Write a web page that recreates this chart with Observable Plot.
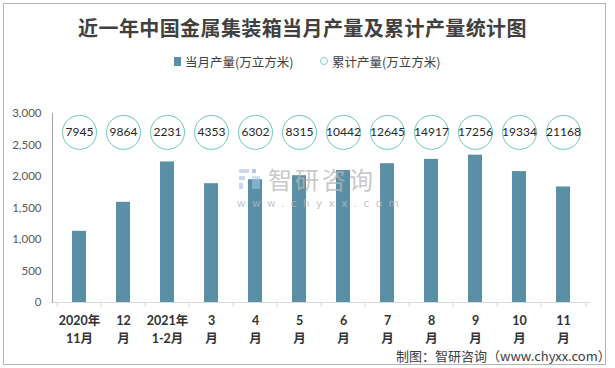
<!DOCTYPE html>
<html><head><meta charset="utf-8">
<script src="https://cdn.jsdelivr.net/npm/d3@7"></script>
<script src="https://cdn.jsdelivr.net/npm/@observablehq/plot@0.6"></script>
<style>
body{margin:0;background:#fff;}
#wrap{position:relative;width:615px;height:368px;overflow:hidden;background:#fff;font-family:"Noto Sans CJK SC",sans-serif;}
#chart{position:absolute;left:0;top:0;}
#border{position:absolute;left:3px;top:3px;width:603px;height:362px;border:1px solid #b4b4b4;box-sizing:border-box;pointer-events:none;}
#title{position:absolute;left:0;top:13px;width:605px;text-align:center;font-size:20px;font-weight:bold;color:#404040;letter-spacing:0.4px;}
#legend{position:absolute;left:0;top:52px;width:615px;font-size:12.5px;color:#404040;}
.li{position:absolute;top:0;white-space:nowrap;}
.sq{position:absolute;width:7px;height:9px;background:#5b8fa6;top:5px;}
.ci{position:absolute;width:6px;height:6px;border:1.3px solid #7fd0c8;border-radius:50%;top:5px;}
#wm1{position:absolute;left:268px;top:167px;font-size:24px;line-height:24px;color:#b8b8b8;opacity:0.75;letter-spacing:3px;}
#wm2{position:absolute;left:237px;top:198px;font-size:10.5px;line-height:11px;color:#b8b8b8;opacity:0.8;letter-spacing:6.4px;font-family:"DejaVu Sans",sans-serif;}
#logo{position:absolute;left:238px;top:167px;width:24px;height:24px;opacity:0.55;}
#footer{position:absolute;left:396px;top:346px;font-size:13px;color:#404040;white-space:nowrap;}
</style></head><body>
<div id="wrap">
 <div id="chart"></div>
 <div id="title">近一年中国金属集装箱当月产量及累计产量统计图</div>
 <div id="legend">
  <div class="sq" style="left:174px"></div><div class="li" style="left:185px">当月产量(万立方米)</div>
  <div class="ci" style="left:320px"></div><div class="li" style="left:332px">累计产量(万立方米)</div>
 </div>
 <svg id="logo" viewBox="0 0 24 24"><rect x="1" y="2" width="10" height="4" fill="#a9b8d8"/><rect x="1" y="9" width="6" height="4" fill="#a9b8d8"/><rect x="1" y="16" width="4" height="6" fill="#a9b8d8"/><rect x="14" y="2" width="4" height="4" fill="#6fa8d8"/><rect x="14" y="9" width="8" height="13" fill="#a9c8e8"/></svg>
 <div id="wm1">智研咨询</div>
 <div id="wm2">www.chyxx.com</div>
 <div id="footer">制图：智研咨询（www.chyxx.com）</div>
 <div id="border"></div>
</div>
<script>
const categories = ["2020年\n11月","12\n月","2021年\n1-2月","3\n月","4\n月","5\n月","6\n月","7\n月","8\n月","9\n月","10\n月","11\n月"];
const monthly = [1130, 1590, 2231, 1886, 1949, 2013, 2095, 2203, 2272, 2339, 2078, 1834];
const cumulative = [7945, 9864, 2231, 4353, 6302, 8315, 10442, 12645, 14917, 17256, 19334, 21168];
const yTicks = [0, 500, 1000, 1500, 2000, 2500, 3000];
const labelLevel = 2700;

const data = categories.map((c, i) => ({cat: c, monthly: monthly[i], cum: cumulative[i]}));
const step = (615 - 52 - 25) / categories.length;

const chart = Plot.plot({
  width: 615, height: 368,
  marginTop: 113, marginBottom: 66, marginLeft: 52, marginRight: 25,
  style: {fontFamily: "Lato, 'Noto Sans CJK SC', sans-serif", background: "transparent"},
  x: {domain: categories, paddingInner: 0.69, paddingOuter: 0.345, axis: null},
  y: {domain: [0, 3000], axis: null},
  marks: [
    Plot.ruleY([0], {stroke: "#d9d9d9", strokeWidth: 1}),
    Plot.ruleX(categories, {x: d => d, dx: -step / 2, insetTop: 189, insetBottom: -5, stroke: "#d9d9d9"}),
    Plot.ruleX(categories.slice(-1), {x: d => d, dx: step / 2, insetTop: 189, insetBottom: -5, stroke: "#d9d9d9"}),
    Plot.frame({anchor: "left", stroke: "#a6a6a6"}),
    Plot.axisY({ticks: yTicks, tickSize: 0, tickPadding: 11, tickFormat: d3.format(","), fontSize: 11.5, color: "#595959", label: null}),
    Plot.barY(data, {x: "cat", y: "monthly", fill: "#5b8fa6"}),
    Plot.text(data, {x: "cat", y: 0, text: "cat", dy: 10, lineAnchor: "top", lineHeight: 1.45, fontSize: 12.5, fontWeight: "bold", fill: "#333"}),
    Plot.dot(data, {x: "cat", y: () => labelLevel, r: 17, stroke: "#6cc7be", strokeWidth: 1, fill: "white"}),
    Plot.text(data, {x: "cat", y: () => labelLevel, text: d => String(d.cum), fontSize: 12, fill: "#262626"})
  ]
});
document.getElementById("chart").appendChild(chart);
</script>
</body></html>
